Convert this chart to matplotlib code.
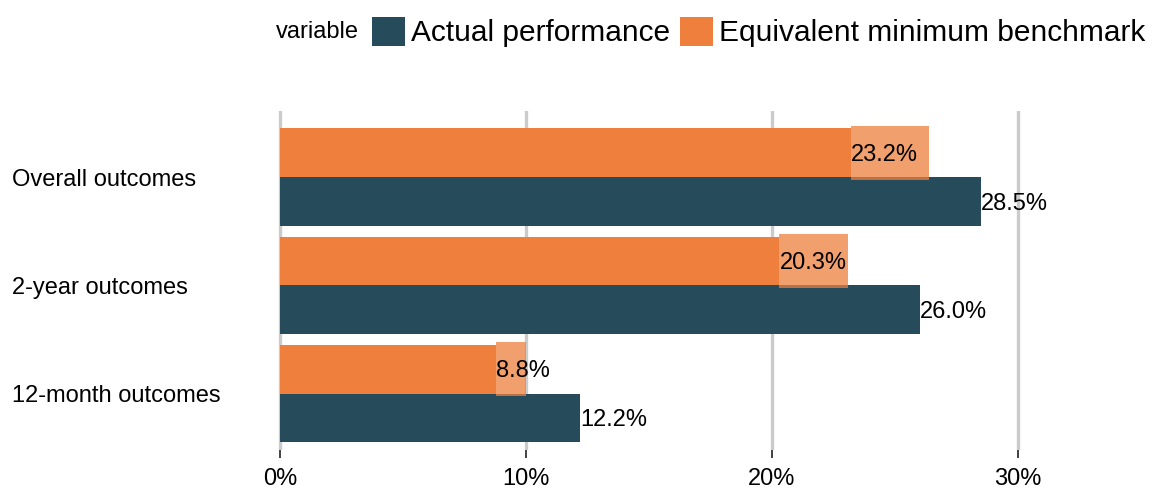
import matplotlib.pyplot as plt
from matplotlib.patches import Patch
from matplotlib.ticker import PercentFormatter

plt.rcParams['font.family'] = ['Liberation Sans', 'DejaVu Sans']

# data
categories = ['12-month outcomes', '2-year outcomes', 'Overall outcomes']
actual = [12.2, 26.0, 28.5]
benchmark = [8.8, 20.3, 23.2]
benchmark_upper = [10.0, 23.1, 26.4]   # lighter band after the benchmark bar
series_names = ['Actual performance', 'Equivalent minimum benchmark']
xticks = [0, 10, 20, 30]

dark = '#264B5A'
orange = '#EE7F3D'
grid_col = '#CBCBCB'

fig = plt.figure(figsize=(11.57, 4.9), dpi=100)
W, H = 1157, 490
x0, x1 = 277, 1150
ax = fig.add_axes([x0 / W, (H - 450) / H, (x1 - x0) / W, (450 - 111) / H])

ypos = list(range(len(categories)))
bh = 0.45
ax.barh([y - bh / 2 for y in ypos], actual, height=bh, color=dark, zorder=2)
ax.barh([y + bh / 2 for y in ypos], benchmark, height=bh, color=orange, zorder=2)
# light band from benchmark to upper value
ax.barh([y + bh / 2 for y in ypos], [u - b for u, b in zip(benchmark_upper, benchmark)],
        left=benchmark, height=0.5, color=orange, alpha=0.75, lw=0, zorder=3)

# labels
for y, v in zip(ypos, actual):
    ax.text(v, y - bh / 2 - 0.02, f'{v:.1f}%', ha='left', va='center', fontsize=17,
            color='black', zorder=4)
for y, v in zip(ypos, benchmark):
    ax.text(v, y + bh / 2 - 0.02, f'{v:.1f}%', ha='left', va='center', fontsize=17,
            color='black', zorder=4)

px_per = 24.6
ax.set_xlim(-3 / px_per, (x1 - 280) / px_per)
ax.set_ylim(-0.52, 2.61)
ax.set_xticks(xticks)
ax.xaxis.set_major_formatter(PercentFormatter(decimals=0))
ax.set_yticks(ypos)
ax.set_yticklabels(categories)
for lab in ax.get_yticklabels():
    lab.set_ha('left')
ax.tick_params(axis='y', length=0, pad=(280 - 15) * 0.72, labelsize=17)
ax.tick_params(axis='x', length=6, width=1.2, color='#222222', pad=7, labelsize=17)
ax.grid(axis='x', color=grid_col, linewidth=2.4, zorder=0)
ax.set_axisbelow(True)
for s in ax.spines.values():
    s.set_visible(False)

# legend
handles = [Patch(facecolor=dark, edgecolor='none'), Patch(facecolor=orange, edgecolor='none')]
fig.legend(handles, series_names, loc='center right', bbox_to_anchor=(1145 / W, 1 - 32 / H),
           ncol=2, frameon=False, fontsize=21.5, handlelength=1.1, handleheight=1.15,
           handletextpad=0.2, columnspacing=0.33, borderpad=0, borderaxespad=0)
fig.text(276 / W, 1 - 32 / H, 'variable', ha='left', va='center', fontsize=17)

fig.savefig('out.png', dpi=100)
